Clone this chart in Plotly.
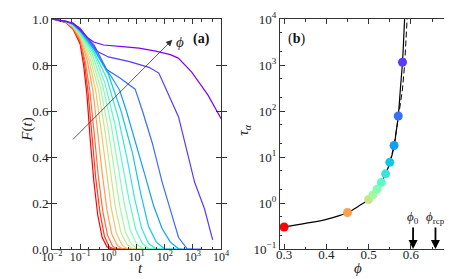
import math
import plotly.graph_objects as go

# ---------------- data ----------------
phi_curves = [0.30, 0.35, 0.40, 0.45, 0.48, 0.50, 0.51, 0.52, 0.53, 0.54, 0.55, 0.56, 0.57, 0.58, 0.59]

# log10(t) and F(t), one list per curve
lt_c1 = [-2, -1.5, -1.25, -1.0, -0.88, -0.76, -0.64, -0.52, -0.38, -0.22, -0.05, 0.1, 1.0]
F_c1 = [1, .985, .955, .89, .80, .67, .47, .30, .15, .05, .01, 0, 0]
lt_c2 = [-2, -1.5, -1.25, -1.0, -0.85, -0.72, -0.58, -0.45, -0.3, -0.14, 0.03, 0.2, 1.1]
F_c2 = [1, .985, .958, .90, .81, .68, .49, .31, .16, .055, .01, 0, 0]
lt_c3 = [-2, -1.5, -1.25, -1.0, -0.82, -0.66, -0.5, -0.36, -0.2, -0.03, 0.15, 0.32, 1.2]
F_c3 = [1, .986, .96, .905, .815, .69, .50, .32, .165, .06, .012, 0, 0]
lt_c4 = [-2, -1.5, -1.25, -1.0, -0.75, -0.55, -0.38, -0.22, -0.05, 0.12, 0.32, 0.5, 1.4]
F_c4 = [1, .987, .963, .915, .82, .69, .51, .33, .17, .065, .015, 0, 0]
lt_c5 = [-2, -1.5, -1.25, -1.0, -0.7, -0.45, -0.26, -0.08, 0.1, 0.28, 0.48, 0.68, 1.5]
F_c5 = [1, .988, .966, .922, .825, .69, .52, .34, .18, .07, .018, 0, 0]
lt_c6 = [-2, -1.5, -1.25, -1.0, -0.65, -0.35, -0.13, 0.06, 0.25, 0.45, 0.66, 0.88, 1.7]
F_c6 = [1, .988, .968, .928, .83, .69, .52, .34, .18, .07, .02, 0, 0]
lt_c7 = [-2, -1.5, -1.25, -1.0, -0.6, -0.28, -0.02, 0.2, 0.4, 0.6, 0.82, 1.05, 1.8]
F_c7 = [1, .989, .97, .932, .835, .70, .53, .35, .19, .075, .02, 0, 0]
lt_c8 = [-2, -1.5, -1.25, -1.0, -0.55, -0.2, 0.1, 0.34, 0.56, 0.78, 1.0, 1.25, 2.0]
F_c8 = [1, .989, .972, .936, .84, .71, .54, .36, .20, .08, .022, 0, 0]
lt_c9 = [-2, -1.5, -1.25, -1.0, -0.5, -0.12, 0.22, 0.5, 0.74, 0.97, 1.2, 1.45, 2.2]
F_c9 = [1, .99, .974, .94, .845, .72, .55, .37, .21, .085, .025, 0, 0]
lt_c10 = [-2, -1.5, -1.25, -1.0, -0.5, -0.05, 0.35, 0.67, 0.93, 1.18, 1.42, 1.7, 2.4]
F_c10 = [1, .99, .975, .944, .855, .74, .57, .39, .22, .09, .025, 0, 0]
lt_c11 = [-2, -1.5, -1.25, -1.0, -0.5, 0.0, 0.45, 0.85, 1.15, 1.42, 1.7, 2.0, 2.6]
F_c11 = [1, .99, .976, .948, .865, .76, .60, .42, .24, .10, .03, 0, 0]
lt_c12 = [-2, -1.5, -1.25, -1.0, -0.5, -0.17, 0.15, 0.4, 0.64, 0.98, 1.3, 1.6, 1.9, 2.2, 2.5, 3.0]
F_c12 = [1, .99, .977, .95, .87, .80, .74, .69, .60, .46, .32, .19, .09, .03, 0, 0]
lt_c13 = [-2, -1.5, -1.25, -1.0, -0.5, -0.06, 0.4, 0.95, 1.21, 1.56, 1.91, 2.26, 2.49, 2.8, 3.3]
F_c13 = [1, .99, .978, .955, .885, .78, .745, .695, .60, .46, .29, .147, .05, 0, 0]
lt_c14 = [-2, -1.5, -1.25, -1.0, -0.7, -0.4, 0.0, 0.75, 1.44, 1.79, 2.14, 2.49, 2.78, 3.06, 3.41, 3.7]
F_c14 = [1, .99, .98, .96, .91, .86, .835, .815, .79, .765, .67, .574, .43, .29, .175, .04]
lt_c15 = [-2, -1.5, -1.25, -0.98, -0.75, -0.52, -0.17, 0.5, 1.09, 1.68, 2.2, 2.48, 2.95, 3.53, 4.0]
F_c15 = [1, .99, .982, .95, .92, .90, .887, .88, .873, .86, .845, .83, .77, .67, .567]

lt_all = [lt_c1, lt_c2, lt_c3, lt_c4, lt_c5, lt_c6, lt_c7, lt_c8, lt_c9, lt_c10,
          lt_c11, lt_c12, lt_c13, lt_c14, lt_c15]
F_all = [F_c1, F_c2, F_c3, F_c4, F_c5, F_c6, F_c7, F_c8, F_c9, F_c10,
         F_c11, F_c12, F_c13, F_c14, F_c15]

# panel (b): relaxation times
phi_pts = [0.30, 0.45, 0.50, 0.51, 0.52, 0.53, 0.54, 0.55, 0.56, 0.57, 0.58]
tau_pts = [0.30, 0.62, 1.19, 1.5, 2.0, 2.8, 4.3, 7.7, 17.8, 78, 1150]

fit_phi = [0.30, 0.35, 0.40, 0.45, 0.48, 0.50, 0.52, 0.54, 0.55, 0.56, 0.565, 0.57, 0.575, 0.58, 0.583, 0.585]
fit_tau = [0.30, 0.36, 0.44, 0.62, 0.9, 1.2, 2.0, 4.3, 7.5, 17, 35, 78, 300, 1150, 4000, 10000]

dash_phi = [0.55, 0.56, 0.57, 0.575, 0.58, 0.585, 0.59, 0.591]
dash_tau = [7.7, 17.5, 70, 150, 300, 1000, 6000, 10000]

phi0 = 0.605
phi_rcp = 0.658


# ---------------- style ----------------
def rainbow(v):
    r = min(1.0, abs(2 * v - 0.5))
    g = math.sin(math.pi * v)
    b = math.cos(math.pi * v / 2)
    return "rgb(%d,%d,%d)" % (round(255 * r), round(255 * max(g, 0)), round(255 * max(b, 0)))


n = len(phi_curves)
colors = [rainbow(1 - i / (n - 1)) for i in range(n)]
color_of = {p: c for p, c in zip(phi_curves, colors)}

FONT = "Liberation Serif"
AX = "#333333"
TF = dict(family=FONT, size=13, color="#222")

fig = go.Figure()

for lt, F, c in zip(lt_all, F_all, colors):
    fig.add_trace(go.Scatter(x=[10 ** v for v in lt], y=F, mode="lines",
                             line=dict(color=c, width=1.2), xaxis="x", yaxis="y",
                             showlegend=False, hoverinfo="skip"))

fig.add_trace(go.Scatter(x=dash_phi, y=dash_tau, mode="lines",
                         line=dict(color="black", width=1, dash="6px,3px"),
                         xaxis="x2", yaxis="y2", showlegend=False))
fig.add_trace(go.Scatter(x=fit_phi, y=fit_tau, mode="lines", line=dict(color="black", width=1.2, shape="spline"),
                         xaxis="x2", yaxis="y2", showlegend=False))
fig.add_trace(go.Scatter(x=phi_pts, y=tau_pts, mode="markers",
                         marker=dict(size=9, color=[color_of[p] for p in phi_pts], line=dict(width=0)),
                         xaxis="x2", yaxis="y2", showlegend=False))
# invisible traces to bind the mirror-tick axes
fig.add_trace(go.Scatter(x=[1], y=[0.5], mode="markers", marker=dict(opacity=0), xaxis="x3", yaxis="y",
                         showlegend=False, hoverinfo="skip"))
fig.add_trace(go.Scatter(x=[0.5], y=[1], mode="markers", marker=dict(opacity=0), xaxis="x4", yaxis="y4",
                         showlegend=False, hoverinfo="skip"))

common = dict(showline=True, linecolor=AX, linewidth=1, mirror="allticks", ticks="inside",
              tickcolor=AX, showgrid=False, zeroline=False, ticklabeloverflow="allow")
minor_log = dict(ticks="inside", ticklen=2.5, tickcolor=AX, showgrid=False)

dec_vals = [1e-2, 1e-1, 1, 1e1, 1e2, 1e3, 1e4]
dec_text = ["10<sup>−2</sup>", "10<sup>−1</sup>", "10<sup>0</sup>", "10<sup>1</sup>",
            "10<sup>2</sup>", "10<sup>3</sup>", "10<sup>4</sup>"]
tau_vals = [1e-1, 1, 1e1, 1e2, 1e3, 1e4]
tau_text = ["10<sup>−1</sup>", "10<sup>0</sup>", "10<sup>1</sup>", "10<sup>2</sup>",
            "10<sup>3</sup>", "10<sup>4</sup>"]
TTF = dict(family=FONT, size=15, color="#222")

fig.update_layout(
    width=452, height=279, margin=dict(l=44, r=2, t=7, b=38),
    paper_bgcolor="white", plot_bgcolor="white",
    font=dict(family=FONT, size=13, color="#222"),
    xaxis=dict(domain=[0, 0.426], type="log", range=[-2, 4], tickvals=dec_vals, ticktext=dec_text,
               ticklen=5, minor=minor_log, ticklabelstandoff=-3,
               tickfont=dict(family=FONT, size=12, color="#222"), **common),
    xaxis3=dict(domain=[0, 0.426], type="log", range=[-2, 4], overlaying="x", side="top", anchor="y",
                tickvals=dec_vals, showticklabels=False, ticks="inside", ticklen=5, tickcolor=AX,
                minor=minor_log, showgrid=False, zeroline=False, showline=False),
    yaxis=dict(domain=[0, 1], range=[0, 1], tickvals=[0, 0.2, 0.4, 0.6, 0.8, 1.0],
               ticktext=["0.0", "0.2", "0.4", "0.6", "0.8", "1.0"], ticklen=5, tickfont=TF, **common),
    xaxis2=dict(domain=[0.574, 1], anchor="y2", range=[0.29, 0.69], tickvals=[0.3, 0.4, 0.5, 0.6],
                ticktext=["0.3", "0.4", "0.5", "0.6"], ticklen=5, ticklabelstandoff=-7, tickfont=TF,
                minor=dict(ticks="inside", ticklen=2.5, tickcolor=AX, dtick=0.05, showgrid=False),
                **common),
    xaxis4=dict(domain=[0.574, 1], anchor="y4", range=[0.29, 0.69], overlaying="x2", side="top",
                tickvals=[0.3, 0.4, 0.5, 0.6], showticklabels=False, ticks="inside", ticklen=5, tickcolor=AX,
                minor=dict(ticks="inside", ticklen=2.5, tickcolor=AX, dtick=0.05, showgrid=False),
                showgrid=False, zeroline=False, showline=False),
    yaxis2=dict(domain=[0, 1], anchor="x2", type="log", range=[-1, 4], tickvals=tau_vals, ticktext=tau_text,
                ticklen=5, minor=minor_log, tickfont=TF, **common),
    yaxis4=dict(domain=[0, 1], anchor="x4", type="log", range=[-1, 4], overlaying="y2", side="right",
                tickvals=tau_vals, showticklabels=False, ticks="inside", ticklen=5, tickcolor=AX,
                minor=minor_log, showgrid=False, zeroline=False, showline=False),
)

ann = []
# axis titles
ann.append(dict(x=0.212, y=-0.128, xref="paper", yref="paper", text="<i>t</i>", showarrow=False, font=TTF))
ann.append(dict(x=0.786, y=-0.125, xref="paper", yref="paper", text="<i>ϕ</i>", showarrow=False, font=TTF))
ann.append(dict(x=-0.088, y=0.517, xref="paper", yref="paper", text="<i>F</i>(<i>t</i>)", showarrow=False,
                textangle=-90, font=TTF))
ann.append(dict(x=0.483, y=0.517, xref="paper", yref="paper", text="<i>τ</i><sub><i>α</i></sub>",
                showarrow=False, textangle=-90, font=TTF))
# arrow in panel (a)
ann.append(dict(x=2.27, y=0.91, ax=-1.31, ay=0.47, xref="x", yref="y", axref="x", ayref="y",
                showarrow=True, arrowhead=2, arrowsize=1.6, arrowwidth=0.8, arrowcolor="#333", text=""))
ann.append(dict(x=2.55, y=0.9, xref="x", yref="y", text="<i>ϕ</i>", showarrow=False,
                font=dict(family=FONT, size=15, color="#222")))
ann.append(dict(x=3.31, y=0.915, xref="x", yref="y", text="<b>(a)</b>", showarrow=False,
                font=dict(family=FONT, size=14, color="#111")))
ann.append(dict(x=0.329, y=3.57, xref="x2", yref="y2", text="(<b>b</b>)", showarrow=False,
                font=dict(family=FONT, size=14, color="#111")))
# phi0 and phi_rcp arrows
for p, lab in [(phi0, "<i>ϕ</i><sub>0</sub>"), (phi_rcp, "<i>ϕ</i><sub>rcp</sub>")]:
    ann.append(dict(x=p, y=-1, ax=p, ay=-0.5, xref="x2", yref="y2", axref="x2", ayref="y2",
                    showarrow=True, arrowhead=2, arrowsize=1, arrowwidth=1.8, arrowcolor="black", text=""))
    ann.append(dict(x=p, y=-0.32, xref="x2", yref="y2", text=lab, showarrow=False,
                    font=dict(family=FONT, size=13, color="#222")))
fig.update_layout(annotations=ann)

fig.write_html("out.html")
